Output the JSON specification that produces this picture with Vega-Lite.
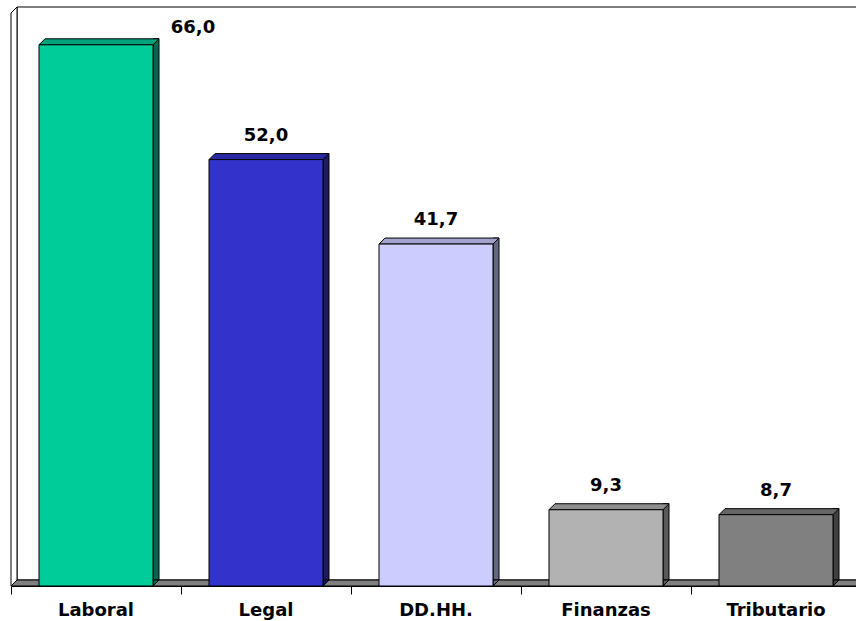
{
  "$schema": "https://vega.github.io/schema/vega-lite/v6.json",
  "autosize": "none",
  "width": 845,
  "height": 574,
  "padding": {"left": 11, "top": 12, "right": 0, "bottom": 35},
  "background": "white",
  "datasets": {
    "main": [
      {"area": "Laboral", "valor": 66.0},
      {"area": "Legal", "valor": 52.0},
      {"area": "DD.HH.", "valor": 41.7},
      {"area": "Finanzas", "valor": 9.3},
      {"area": "Tributario", "valor": 8.7}
    ],
    "one": [{}]
  },
  "config": {
    "view": {"stroke": null},
    "axisY": {"disable": true},
    "locale": {"number": {"decimal": ",", "thousands": ".", "grouping": [3], "currency": ["", ""]}}
  },
  "resolve": {"scale": {"fill": "independent"}},
  "layer": [
    {
      "data": {"name": "one"},
      "mark": {"type": "rect", "fill": "white", "stroke": "black", "strokeWidth": 1, "yOffset": -5, "y2Offset": -6},
      "encoding": {
        "x": {"value": 6},
        "x2": {"value": 900},
        "y": {"datum": 70, "type": "quantitative", "scale": {"domain": [0, 70], "nice": false, "zero": true}},
        "y2": {"datum": 0}
      }
    },
    {
      "data": {"name": "one"},
      "mark": {"type": "point", "filled": true, "opacity": 1, "fill": "white", "stroke": "black", "strokeWidth": 1, "size": 4, "shape": "M0,0 L0,-573 L6,-579 L6,-6 Z"},
      "encoding": {
        "x": {"value": 0},
        "y": {"datum": 0, "type": "quantitative"}
      }
    },
    {
      "data": {"name": "one"},
      "mark": {"type": "point", "filled": true, "opacity": 1, "fill": "#808080", "stroke": "black", "strokeWidth": 1, "size": 4, "shape": "M0,0 L6,-6 L900,-6 L900,0 Z"},
      "encoding": {
        "x": {"value": 0},
        "y": {"datum": 0, "type": "quantitative"}
      }
    },
    {
      "data": {"name": "main"},
      "mark": {"type": "bar", "width": 6, "xOffset": 60, "yOffset": -6, "y2Offset": -6, "stroke": "black", "strokeWidth": 1},
      "encoding": {
        "x": {"field": "area", "type": "nominal", "sort": null},
        "y": {"field": "valor", "type": "quantitative"},
        "y2": {"datum": 0},
        "fill": {"field": "area", "type": "nominal", "legend": null,
          "scale": {"domain": ["Laboral", "Legal", "DD.HH.", "Finanzas", "Tributario"], "range": ["#006650", "#1A1A66", "#666680", "#595959", "#404040"]}}
      }
    },
    {
      "data": {"name": "main"},
      "mark": {"type": "point", "filled": true, "opacity": 1, "stroke": "black", "strokeWidth": 1, "size": 4, "shape": "M57,0 L57,-6 L63,-6 Z"},
      "encoding": {
        "x": {"field": "area", "type": "nominal", "sort": null},
        "y": {"datum": 0, "type": "quantitative"},
        "fill": {"field": "area", "type": "nominal", "legend": null,
          "scale": {"domain": ["Laboral", "Legal", "DD.HH.", "Finanzas", "Tributario"], "range": ["#006650", "#1A1A66", "#666680", "#595959", "#404040"]}}
      }
    },
    {
      "data": {"name": "main"},
      "mark": {"type": "point", "filled": true, "opacity": 1, "stroke": "black", "strokeWidth": 1, "size": 4, "shape": "M-57,0 L-51,-6 L63,-6 L57,0 Z"},
      "encoding": {
        "x": {"field": "area", "type": "nominal", "sort": null},
        "y": {"field": "valor", "type": "quantitative"},
        "fill": {"field": "area", "type": "nominal", "legend": null,
          "scale": {"domain": ["Laboral", "Legal", "DD.HH.", "Finanzas", "Tributario"], "range": ["#00A37A", "#2929A3", "#A3A3CC", "#8E8E8E", "#666666"]}}
      }
    },
    {
      "data": {"name": "main"},
      "mark": {"type": "bar", "width": 114, "stroke": "black", "strokeWidth": 1},
      "encoding": {
        "x": {"field": "area", "type": "nominal", "sort": null,
          "scale": {"range": [0, 850], "paddingInner": 0, "paddingOuter": 0},
          "axis": {"title": null, "labelAngle": 0, "labelAlign": "center", "labelFont": "DejaVu Sans", "labelFontWeight": "bold", "labelFontSize": 18, "labelColor": "black", "domainColor": "black", "domainWidth": 1, "tickColor": "black", "tickSize": 8, "tickWidth": 1, "labelPadding": 16, "bandPosition": 0, "zindex": 1}},
        "y": {"field": "valor", "type": "quantitative"},
        "y2": {"datum": 0},
        "fill": {"field": "area", "type": "nominal", "legend": null,
          "scale": {"domain": ["Laboral", "Legal", "DD.HH.", "Finanzas", "Tributario"], "range": ["#00CC99", "#3333CC", "#CCCCFF", "#B2B2B2", "#808080"]}}
      }
    },
    {
      "data": {"name": "main"},
      "transform": [{"filter": "datum.area !== 'Laboral'"}],
      "mark": {"type": "text", "font": "DejaVu Sans", "fontWeight": "bold", "fontSize": 18, "fill": "black", "align": "center", "baseline": "alphabetic", "dy": -19},
      "encoding": {
        "x": {"field": "area", "type": "nominal", "sort": null},
        "y": {"field": "valor", "type": "quantitative"},
        "text": {"field": "valor", "type": "quantitative", "format": ".1f"}
      }
    },
    {
      "data": {"name": "main"},
      "transform": [{"filter": "datum.area === 'Laboral'"}],
      "mark": {"type": "text", "font": "DejaVu Sans", "fontWeight": "bold", "fontSize": 18, "fill": "black", "align": "center", "baseline": "alphabetic", "dx": 97, "dy": -12},
      "encoding": {
        "x": {"field": "area", "type": "nominal", "sort": null},
        "y": {"field": "valor", "type": "quantitative"},
        "text": {"field": "valor", "type": "quantitative", "format": ".1f"}
      }
    }
  ]
}
